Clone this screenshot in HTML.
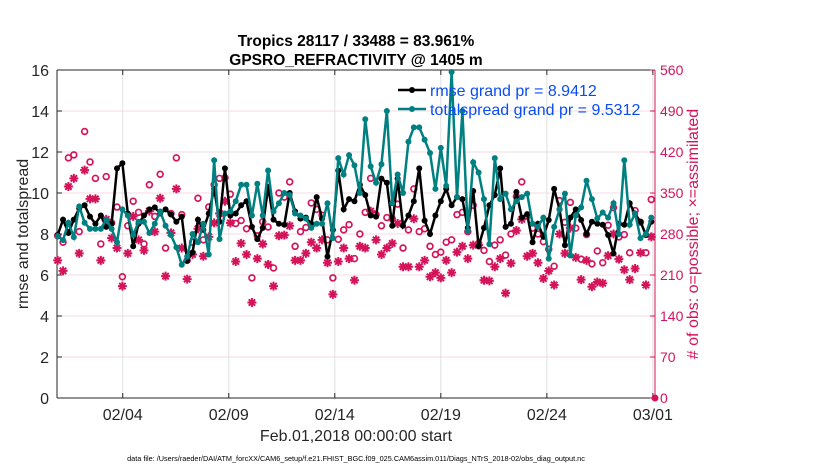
<!DOCTYPE html>
<html><head><meta charset="utf-8"><style>
body{margin:0;background:#fff}
svg text{font-family:"Liberation Sans",Arial,sans-serif}
</style></head><body>
<svg id="chart" width="830" height="470" xmlns="http://www.w3.org/2000/svg"></svg>
<script>
const rmse=[7.95,8.7,8.05,8.7,9.25,9.4,8.85,8.5,8.9,8.35,8.5,11.2,11.45,9.0,7.4,8.5,8.9,9.2,9.3,9.0,9.2,8.95,8.6,8.85,6.7,7.1,8.7,8.2,
9.0,10.2,8.6,11.2,8.9,9.0,9.4,9.6,8.35,7.75,8.3,10.3,8.7,8.5,8.45,10.0,9.1,8.75,8.8,8.5,9.8,8.75,6.9,8.2,11.1,9.2,9.7,9.6,
10.4,9.9,8.9,8.85,10.7,10.5,8.4,10.7,8.4,8.9,9.6,11.2,8.65,8.0,8.9,9.6,10.2,9.4,9.8,9.7,8.3,10.1,7.4,8.3,9.4,9.9,11.2,
8.35,8.5,10.05,8.8,8.97,7.6,8.5,7.87,8.68,10.2,9.2,7.45,8.8,9.2,8.68,8.0,8.6,8.5,8.45,7.95,7.05,8.5,8.45,9.5,8.97,8.6,7.95,8.6];
const spread=[7.9,7.7,8.55,7.85,9.35,8.55,8.25,8.25,8.25,8.7,8.25,7.6,9.2,8.9,7.95,8.6,8.6,8.05,8.5,9.1,8.4,7.95,7.35,6.5,6.9,8.0,7.6,8.5,
7.0,11.6,7.75,9.0,9.1,9.6,10.4,10.4,8.9,10.45,8.9,11.1,9.1,9.5,10.0,9.9,9.0,8.9,8.75,8.3,8.5,8.5,9.5,7.8,11.7,10.9,11.85,11.35,
10.0,13.6,11.3,10.5,11.4,14.0,9.5,10.9,10.0,12.5,13.2,13.2,12.6,11.95,10.2,12.2,10.35,15.9,9.8,14.0,8.15,11.5,11.0,9.7,7.5,11.7,9.7,
9.97,9.2,9.6,9.8,9.97,8.5,8.35,8.8,6.8,8.35,9.2,9.97,6.95,8.9,9.3,10.6,9.7,8.76,9.05,8.8,9.5,8.0,11.6,8.45,9.0,7.8,8.0,8.8];
const possible=[277,266,410,415,284,455,403,375,263,378,299,326,207,294,336,317,263,364,310,382,256,315,410,313,235,266,341,270,
326,364,375,376,348,298,303,289,205,277,301,292,222,350,343,369,259,284,291,333,322,312,270,205,271,287,296,238,
280,317,375,313,294,308,306,331,256,287,357,284,289,259,245,249,266,270,313,317,284,329,264,252,233,261,270,
244,280,344,369,311,290,280,267,254,225,337,300,334,290,237,279,229,251,231,295,325,275,279,248,320,300,248,339];
const assimilated=[235,217,361,375,247,389,340,340,235,305,273,256,191,247,310,270,252,319,284,341,208,282,357,256,203,245,289,242,
275,299,315,336,299,233,264,245,163,238,263,228,191,277,278,294,235,235,247,266,256,270,231,177,233,256,238,201,
259,256,319,270,245,256,264,298,224,224,306,224,235,207,214,205,235,214,249,259,238,261,261,201,200,224,238,
179,230,286,305,242,247,231,204,217,193,280,247,290,240,202,235,190,198,196,243,280,237,219,202,221,248,193,275];
const leftTicks=[0,2,4,6,8,10,12,14,16];
const rightTicks=[0,70,140,210,280,350,420,490,560];
const dateTicks=[4,9,14,19,24,29];
const dateLabels=["02/04","02/09","02/14","02/19","02/24","03/01"];
const startDay=0.93, stepDay=0.2545;

const NS="http://www.w3.org/2000/svg";
const svg=document.getElementById('chart');
const L=57,R=655,T=70,B=398;
const X=d=>L+(d-0.9)*(R-L)/28.2;
const Y=v=>B-v*(B-T)/16;
const Y2=c=>B-c*(B-T)/560;
const MAG="#d4145a",TEAL="#008080";
function mk(tag,at,parent){const e=document.createElementNS(NS,tag);for(const k in at)e.setAttribute(k,at[k]);(parent||svg).appendChild(e);return e;}

leftTicks.forEach(v=>{if(v>0&&v<16){const g=mk('line',{x1:L,x2:R,y1:Y(v),y2:Y(v),stroke:"#f4dbe5","stroke-width":1});

}});
dateTicks.forEach(d=>{const g=mk('line',{x1:X(d),x2:X(d),y1:T,y2:B,stroke:"#e0e0e0","stroke-width":1});

});

const ax=mk('g',{});


mk('line',{x1:L,x2:L,y1:T,y2:B,stroke:"#262626"},ax);
mk('line',{x1:L,x2:R,y1:B,y2:B,stroke:"#262626"},ax);
mk('line',{x1:L,x2:R,y1:T,y2:T,stroke:"#262626"},ax);
mk('line',{x1:R,x2:R,y1:T,y2:B,stroke:MAG},ax);
leftTicks.forEach(v=>{mk('line',{x1:L,x2:L+5,y1:Y(v),y2:Y(v),stroke:"#262626"},ax);
const t=mk('text',{x:L-8,y:Y(v)+6,"text-anchor":"end","font-size":16,fill:"#262626"},ax);t.textContent=v;

});
rightTicks.forEach(c=>{mk('line',{x1:R-5,x2:R,y1:Y2(c),y2:Y2(c),stroke:MAG},ax);
const t=mk('text',{x:R+5,y:Y2(c)+5,"font-size":14,fill:MAG},ax);t.textContent=c;

});
dateTicks.forEach((d,i)=>{mk('line',{x1:X(d),x2:X(d),y1:B,y2:B-5,stroke:"#262626"},ax);mk('line',{x1:X(d),x2:X(d),y1:T,y2:T+5,stroke:"#262626"},ax);
const t=mk('text',{x:X(d),y:B+22,"text-anchor":"middle","font-size":16,fill:"#262626"},ax);t.textContent=dateLabels[i];

});

const xi=i=>X(startDay+i*stepDay);
possible.forEach((c,i)=>{const m=mk('circle',{cx:xi(i),cy:Y2(c),r:2.9,fill:"none",stroke:MAG,"stroke-width":1.7});

});
assimilated.forEach((c,i)=>{const cx=xi(i),cy=Y2(c),r=4.5,q=3.2;
const m=mk('path',{d:`M${cx-r},${cy}H${cx+r}M${cx},${cy-r}V${cy+r}M${cx-q},${cy-q}L${cx+q},${cy+q}M${cx-q},${cy+q}L${cx+q},${cy-q}`,stroke:MAG,"stroke-width":2,fill:"none"});

});
const z=mk('circle',{cx:R,cy:B,r:3.5,fill:MAG});



function series(vals,col,name){
const g=mk('g',{});


mk('polyline',{points:vals.map((v,i)=>xi(i)+","+Y(v)).join(" "),fill:"none",stroke:col,"stroke-width":2.5},g);
vals.forEach((v,i)=>{const p=mk('circle',{cx:xi(i),cy:Y(v),r:3,fill:col},g);

});}
series(rmse,"#000","rmse-series");
series(spread,TEAL,"totalspread-series");

const lg=mk('g',{});


[["rmse grand pr = 8.9412","#000",90],["totalspread grand pr = 9.5312",TEAL,109]].forEach(a=>{
mk('line',{x1:398,x2:426,y1:a[2],y2:a[2],stroke:a[1],"stroke-width":2.5},lg);
mk('circle',{cx:412,cy:a[2],r:3,fill:a[1]},lg);
const t=mk('text',{x:430,y:a[2]+6,"font-size":16,fill:"#0a4cf5"},lg);t.textContent=a[0];

});

function txt(s,at,name){const t=mk('text',at);t.textContent=s;

return t;}
txt("Tropics 28117 / 33488 = 83.961%",{x:356,y:46,"text-anchor":"middle","font-size":15.5,"font-weight":"bold",fill:"#000"},'chart-title');
txt("GPSRO_REFRACTIVITY @ 1405 m",{x:356,y:65,"text-anchor":"middle","font-size":15.5,"font-weight":"bold",fill:"#000"},'chart-subtitle');
txt("rmse and totalspread",{x:0,y:0,"text-anchor":"middle","font-size":16,fill:"#262626",transform:"translate(28,234) rotate(-90)"},'y-axis-title');
txt("# of obs: o=possible; \u00d7=assimilated",{x:0,y:0,"text-anchor":"middle","font-size":16,fill:MAG,transform:"translate(698,234) rotate(-90)"},'y2-axis-title');
txt("Feb.01,2018 00:00:00 start",{x:356,y:441,"text-anchor":"middle","font-size":16,fill:"#262626"},'x-axis-title');
txt("data file: /Users/raeder/DAI/ATM_forcXX/CAM6_setup/f.e21.FHIST_BGC.f09_025.CAM6assim.011/Diags_NTrS_2018-02/obs_diag_output.nc",{x:356,y:461,"text-anchor":"middle","font-size":7.3,fill:"#000"},'data-file-note');
</script>
</body></html>
